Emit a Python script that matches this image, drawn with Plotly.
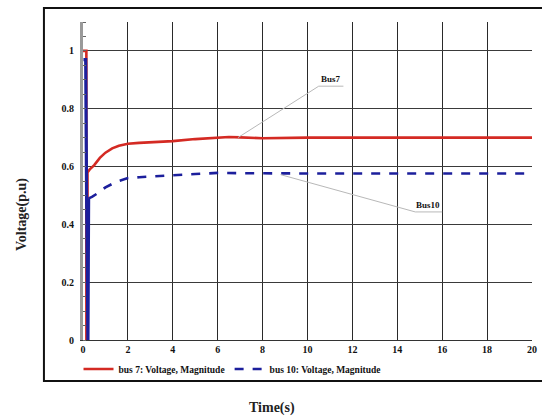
import plotly.graph_objects as go

# Bus voltage magnitudes after the disturbance (p.u.)
t_bus7 = [0, 0.15, 0.15, 0.2, 0.2, 0.3, 0.5, 0.75, 1.0, 1.3, 1.6, 2.0, 2.5, 3, 4, 5, 6, 6.5, 7, 8, 10, 12, 14, 16, 18, 20]
v_bus7 = [1.0, 1.0, 0.0, 0.0, 0.58, 0.59, 0.605, 0.63, 0.648, 0.663, 0.672, 0.679, 0.682, 0.684, 0.688, 0.695, 0.70, 0.702, 0.701, 0.698, 0.70, 0.70, 0.70, 0.70, 0.70, 0.70]

# switching transient of bus 10 (drawn solid, the dashes merge here)
t_bus10_fault = [0.02, 0.12, 0.16, 0.2, 0.22, 0.25]
v_bus10_fault = [0.97, 0.97, 0.5, 0.0, 0.0, 0.49]

t_bus10 = [0.25, 0.4, 0.6, 1.0, 1.5, 2.0, 2.5, 3, 4, 5, 6, 7, 8, 10, 12, 14, 16, 18, 20]
v_bus10 = [0.49, 0.495, 0.505, 0.528, 0.548, 0.56, 0.563, 0.566, 0.57, 0.574, 0.578, 0.577, 0.576, 0.576, 0.576, 0.576, 0.576, 0.576, 0.576]

x_ticks = [0, 2, 4, 6, 8, 10, 12, 14, 16, 18, 20]
y_ticks = [0, 0.2, 0.4, 0.6, 0.8, 1]
y_tick_text = ["0", "0.2", "0.4", "0.6", "0.8", "1"]

serif = "Liberation Serif"
red = "#d42a23"
blue = "#1c1f9c"

fig = go.Figure()
fig.add_trace(go.Scatter(
    x=t_bus7, y=v_bus7, mode="lines", name="bus 7: Voltage, Magnitude",
    line=dict(color=red, width=2.6),
))
fig.add_trace(go.Scatter(
    x=t_bus10_fault, y=v_bus10_fault, mode="lines", showlegend=False,
    line=dict(color=blue, width=3.2), hoverinfo="skip",
))
fig.add_trace(go.Scatter(
    x=t_bus10, y=v_bus10, mode="lines", name="bus 10: Voltage, Magnitude",
    line=dict(color=blue, width=2.6, dash="dash"),
))

# leader lines for the callouts
leader = dict(color="#b8b8b8", width=1)
fig.add_shape(type="line", x0=6.9, y0=0.70, x1=10.5, y1=0.878, line=leader)
fig.add_shape(type="line", x0=10.5, y0=0.878, x1=11.6, y1=0.878, line=leader)
fig.add_shape(type="line", x0=8.8, y0=0.572, x1=14.8, y1=0.443, line=leader)
fig.add_shape(type="line", x0=14.8, y0=0.443, x1=16.0, y1=0.443, line=leader)

fig.add_annotation(x=11.05, y=0.878, text="<b>Bus7</b>", showarrow=False,
                   yanchor="bottom", font=dict(family=serif, size=9, color="#111"))
fig.add_annotation(x=15.35, y=0.443, text="<b>Bus10</b>", showarrow=False,
                   yanchor="bottom", font=dict(family=serif, size=9, color="#111"))

# outer frame
fig.add_shape(type="rect", xref="paper", yref="paper",
              x0=-0.087, y0=-0.129, x1=1.03, y1=1.044,
              line=dict(color="#111", width=2), layer="below")

fig.add_annotation(xref="paper", yref="paper", x=-0.158, y=0.393,
                   text="<b>Voltage(p.u)</b>", textangle=-90, showarrow=False,
                   font=dict(family=serif, size=14, color="#222"))
fig.add_annotation(xref="paper", yref="paper", x=0.422, y=-0.245,
                   text="Time(s)", showarrow=False,
                   font=dict(family=serif, size=14, color="#222"))

fig.update_layout(
    width=542, height=416,
    margin=dict(l=83, r=5, t=22, b=76),
    paper_bgcolor="white", plot_bgcolor="white",
    font=dict(family=serif, size=10, color="#111", weight="bold"),
    showlegend=True,
    legend=dict(orientation="h", x=-0.01, y=-0.091, xanchor="left", yanchor="middle",
                font=dict(family=serif, size=9.5, weight="bold"),
                itemwidth=30, bgcolor="rgba(0,0,0,0)", tracegroupgap=0),
    xaxis=dict(range=[0, 20], tickvals=x_ticks, showgrid=True, gridcolor="#2a2a2a",
               gridwidth=1, zeroline=False, showline=True, linecolor="#333", linewidth=1,
               ticks="", tickfont=dict(family=serif, size=10, weight="bold")),
    yaxis=dict(range=[0, 1.1], tickvals=y_ticks, ticktext=y_tick_text, showgrid=True,
               gridcolor="#3a3a3a", gridwidth=1, zeroline=False, showline=True,
               linecolor="#9a9a9a", linewidth=3, ticks="", ticklabelstandoff=4,
               minor=dict(dtick=0.05, ticks="inside", ticklen=3, tickcolor="#666", showgrid=False),
               tickfont=dict(family=serif, size=10, weight="bold")),
)

fig.write_html("out.html")
